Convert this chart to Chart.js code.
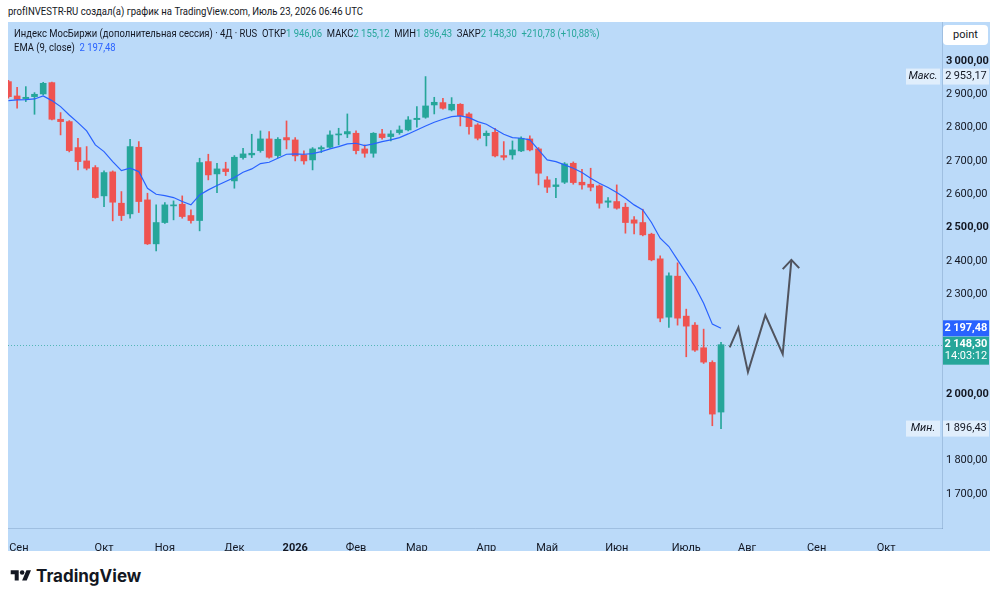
<!DOCTYPE html>
<html lang="ru">
<head>
<meta charset="UTF-8">
<title>Индекс МосБиржи</title>
<script src="https://cdn.jsdelivr.net/npm/chart.js"></script>
<style>
  body { margin: 0; width: 1000px; height: 600px; background: #fff; position: relative; overflow: hidden; font-family: Roboto, "Liberation Sans", sans-serif; }
  #credit { position: absolute; left: 8px; top: 5px; font-size: 11px; color: #131722; white-space: nowrap; transform: scaleX(0.87); transform-origin: left center; }
  #wrap { position: absolute; left: 8px; top: 22px; width: 982px; height: 529px; background: #bbdaf9; }
  #legend { position: absolute; left: 6px; top: 5px; font-size: 11px; color: #131722; line-height: 14px; white-space: nowrap; transform: scaleX(0.86); transform-origin: left top; }
  #legend .v { color: #26a69a; }
  #legend .e { color: #2962ff; }
  #pt { position: absolute; left: 935px; top: 3px; width: 45px; height: 20px; background: #fff; border-radius: 4px; font-size: 11px; color: #131722; text-align: center; line-height: 20px; }
  #logo { position: absolute; left: 10px; top: 566px; display: flex; align-items: center; gap: 4px; font-family: Inter, Roboto, sans-serif; font-weight: 700; font-size: 17px; color: #131722; }
</style>
</head>
<body>
<div id="credit">profINVESTR-RU создал(а) график на TradingView.com, Июль 23, 2026 06:46 UTC</div>
<div id="wrap">
  <canvas id="chart" width="982" height="529"></canvas>
  <div id="legend">
    <div>Индекс МосБиржи (дополнительная сессия) · 4Д · RUS&nbsp; ОТКР<span class="v">1 946,06</span>&nbsp; МАКС<span class="v">2 155,12</span>&nbsp; МИН<span class="v">1 896,43</span>&nbsp; ЗАКР<span class="v">2 148,30</span>&nbsp; <span class="v">+210,78 (+10,88%)</span></div>
    <div>EMA (9, close)&nbsp; <span class="e">2 197,48</span></div>
  </div>
  <div id="pt">point</div>
</div>
<div id="logo">
  <svg width="22" height="16" viewBox="0 0 36 28"><path d="M14 22H7V11H0V4h14v18z" fill="#131722"/><circle cx="20" cy="8" r="4" fill="#131722"/><path d="M28 22h-8l7.5-18h8L28 22z" fill="#131722"/></svg>
  <span>TradingView</span>
</div>

<script>
// 4-day candles, index 0 = first visible bar
const candleOpen = [2938, 2895, 2887, 2893, 2901, 2935, 2825, 2818, 2740, 2700,
  2680, 2595, 2667, 2573, 2541, 2741, 2583, 2451, 2515, 2565,
  2570, 2536, 2521, 2698, 2661, 2676, 2640, 2710, 2718, 2731,
  2766, 2716, 2770, 2763, 2718, 2703, 2736, 2741, 2778, 2781,
  2783, 2736, 2723, 2781, 2773, 2785, 2793, 2824, 2831, 2868,
  2875, 2853, 2870, 2841, 2808, 2776, 2786, 2716, 2718, 2730,
  2766, 2736, 2643, 2623, 2636, 2693, 2636, 2630, 2625, 2576,
  2578, 2561, 2523, 2515, 2480, 2406, 2231, 2354, 2234, 2207,
  2139, 2095, 1946.06];
const candleHigh = [2942, 2921, 2923, 2905, 2936, 2937, 2845, 2821, 2768, 2743,
  2686, 2670, 2670, 2608, 2765, 2758, 2603, 2568, 2575, 2580,
  2595, 2553, 2708, 2720, 2693, 2696, 2716, 2738, 2780, 2790,
  2788, 2770, 2820, 2770, 2730, 2740, 2745, 2790, 2798, 2841,
  2790, 2748, 2785, 2795, 2791, 2805, 2833, 2863, 2953.17, 2891,
  2888, 2890, 2872, 2845, 2812, 2790, 2798, 2758, 2760, 2772,
  2775, 2740, 2653, 2648, 2695, 2697, 2675, 2678, 2628, 2590,
  2628, 2573, 2533, 2555, 2483, 2415, 2364, 2394, 2255, 2215,
  2195, 2100, 2155.12];
const candleLow = [2888, 2858, 2878, 2840, 2898, 2823, 2778, 2727, 2673, 2673,
  2588, 2563, 2520, 2521, 2528, 2545, 2449, 2430, 2512, 2523,
  2528, 2513, 2490, 2643, 2605, 2656, 2618, 2705, 2710, 2726,
  2708, 2710, 2736, 2700, 2690, 2673, 2725, 2738, 2748, 2770,
  2721, 2711, 2711, 2765, 2760, 2780, 2790, 2801, 2828, 2841,
  2855, 2850, 2805, 2780, 2763, 2745, 2712, 2703, 2705, 2728,
  2730, 2628, 2605, 2590, 2632, 2630, 2615, 2610, 2558, 2560,
  2555, 2483, 2481, 2475, 2400, 2217, 2200, 2207, 2112, 2128,
  2092, 1905, 1896.43];
const candleClose = [2893, 2885, 2891, 2900, 2933, 2825, 2818, 2731, 2698, 2678,
  2590, 2665, 2576, 2536, 2743, 2578, 2451, 2515, 2568, 2568,
  2533, 2521, 2695, 2658, 2676, 2668, 2711, 2721, 2723, 2766,
  2711, 2765, 2763, 2715, 2700, 2736, 2740, 2778, 2781, 2788,
  2731, 2723, 2783, 2770, 2781, 2793, 2823, 2828, 2865, 2876,
  2858, 2870, 2836, 2803, 2768, 2783, 2715, 2711, 2733, 2768,
  2733, 2663, 2621, 2628, 2691, 2635, 2628, 2621, 2573, 2580,
  2558, 2515, 2513, 2478, 2403, 2228, 2355, 2228, 2204, 2132,
  2096, 1940, 2148.30];
// EMA(9, close)
const emaLine = [2881, 2883, 2884, 2886, 2895, 2881, 2863, 2838, 2815, 2790,
  2748, 2728, 2698, 2671, 2678, 2668, 2618, 2600, 2596, 2590,
  2578, 2568, 2598, 2613, 2626, 2638, 2650, 2666, 2676, 2692,
  2696, 2708, 2720, 2721, 2720, 2722, 2728, 2736, 2743, 2751,
  2753, 2746, 2751, 2758, 2763, 2770, 2781, 2793, 2805, 2816,
  2825, 2833, 2835, 2830, 2818, 2810, 2795, 2780, 2770, 2768,
  2763, 2733, 2703, 2698, 2688, 2678, 2665, 2648, 2633, 2620,
  2605, 2588, 2568, 2553, 2515, 2468, 2443, 2403, 2363, 2323,
  2273, 2210, 2197.48];
// hand-drawn forecast arrow
const arrowX = [83.0, 84.0, 85.1, 87.1, 89.1, 90.1];
const arrowY = [2140, 2200, 2066, 2237, 2120, 2403];
const headX = [89.1, 90.1, 91.0];
const headY = [2375, 2403, 2378];

const monthLabels = ['Сен', 'Окт', 'Ноя', 'Дек', '2026', 'Фев', 'Мар', 'Апр', 'Май', 'Июн', 'Июль', 'Авг', 'Сен', 'Окт'];
const monthPos = [1.2, 11, 18, 26, 33, 40, 47, 55, 62, 70, 78, 85, 93, 101];
const priceTicks = [3000, 2900, 2800, 2700, 2600, 2500, 2400, 2300, 2000, 1800, 1700];
const boldPrices = [3000, 2500, 2000];

const maxPrice = 2953.17, minPrice = 1896.43, lastClose = 2148.30, lastEma = 2197.48;

const UP = '#26a69a', DOWN = '#ef5350';
const FONT = 'Roboto, "Liberation Sans", sans-serif';

function fmt(v) {
  const parts = v.toFixed(2).split('.');
  return parts[0].replace(/\B(?=(\d{3})+(?!\d))/g, '\u2009') + ',' + parts[1];
}

const colors = candleOpen.map((o, i) => candleClose[i] >= o ? UP : DOWN);

const badges = {
  id: 'badges',
  beforeDatasetsDraw(chart) {
    const { ctx, chartArea: a, scales: { y } } = chart;
    const py = Math.round(y.getPixelForValue(lastClose)) + 0.5;
    ctx.save();
    ctx.strokeStyle = 'rgba(38,166,154,0.7)';
    ctx.setLineDash([1, 2]);
    ctx.lineWidth = 1;
    ctx.beginPath();
    ctx.moveTo(a.left, py);
    ctx.lineTo(a.right, py);
    ctx.stroke();
    ctx.restore();
  },
  afterDraw(chart) {
    const { ctx, chartArea: a, scales: { y } } = chart;
    const ax = a.right + 1, aw = 46;
    ctx.save();
    ctx.font = '11px ' + FONT;
    ctx.textBaseline = 'middle';

    function tagBox(val, label) {
      const py = y.getPixelForValue(val);
      ctx.fillStyle = 'rgba(255,255,255,0.55)';
      ctx.fillRect(ax, py - 8, aw, 16);
      ctx.fillRect(a.right - 36, py - 8, 34, 16);
      ctx.fillStyle = '#131722';
      ctx.textAlign = 'center';
      ctx.fillText(fmt(val), ax + aw / 2, py);
      ctx.font = 'italic 11px ' + FONT;
      ctx.fillText(label, a.right - 19, py);
      ctx.font = '11px ' + FONT;
    }
    tagBox(maxPrice, 'Макс.');
    tagBox(minPrice, 'Мин.');

    let py = y.getPixelForValue(lastEma);
    ctx.fillStyle = '#2962ff';
    ctx.fillRect(ax, py - 8, aw, 16);
    ctx.fillStyle = '#fff';
    ctx.textAlign = 'center';
    ctx.font = 'bold 11px ' + FONT;
    ctx.fillText(fmt(lastEma), ax + aw / 2, py);

    py = y.getPixelForValue(lastClose);
    ctx.fillStyle = UP;
    ctx.fillRect(ax, py - 8, aw, 28);
    ctx.fillStyle = '#fff';
    ctx.fillText(fmt(lastClose), ax + aw / 2, py);
    ctx.font = '11px ' + FONT;
    ctx.fillText('14:03:12', ax + aw / 2, py + 12);
    ctx.restore();
  }
};

new Chart(document.getElementById('chart'), {
  type: 'bar',
  data: {
    datasets: [
      {
        type: 'line',
        data: emaLine.map((v, i) => ({ x: i, y: v })),
        borderColor: '#2962ff',
        borderWidth: 1.2,
        pointRadius: 0,
        order: 0
      },
      {
        type: 'line',
        data: arrowX.map((v, i) => ({ x: v, y: arrowY[i] })),
        borderColor: '#50535e',
        borderWidth: 2,
        pointRadius: 0,
        order: 0
      },
      {
        type: 'line',
        data: headX.map((v, i) => ({ x: v, y: headY[i] })),
        borderColor: '#50535e',
        borderWidth: 2,
        pointRadius: 0,
        order: 0
      },
      {
        data: candleOpen.map((o, i) => ({ x: i, y: [o, candleClose[i]] })),
        backgroundColor: colors,
        barThickness: 6,
        minBarLength: 1,
        grouped: false,
        order: 1
      },
      {
        data: candleLow.map((l, i) => ({ x: i, y: [l, candleHigh[i]] })),
        backgroundColor: colors,
        barThickness: 1,
        grouped: false,
        order: 2
      }
    ]
  },
  options: {
    responsive: false,
    animation: false,
    layout: { padding: 0 },
    plugins: { legend: { display: false }, tooltip: { enabled: false } },
    scales: {
      x: {
        type: 'linear',
        min: -0.05,
        max: 107.43,
        offset: false,
        grid: { display: false },
        border: { display: true, color: 'rgba(110,140,180,0.35)' },
        afterBuildTicks(scale) { scale.ticks = monthPos.map(v => ({ value: v })); },
        afterFit(scale) {
          scale.height = 23;
          scale.paddingLeft = 0;
          scale.paddingRight = 0;
        },
        ticks: {
          autoSkip: false,
          maxRotation: 0,
          padding: 6,
          color: '#131722',
          font: ctx => ({ family: FONT, size: 11, weight: ctx.index === 4 ? 'bold' : 'normal' }),
          callback: (v, i) => monthLabels[i]
        }
      },
      y: {
        position: 'right',
        min: 1598,
        max: 3117,
        grid: { display: false, drawTicks: false },
        border: { display: true, color: 'rgba(110,140,180,0.35)' },
        afterBuildTicks(scale) { scale.ticks = priceTicks.map(v => ({ value: v })); },
        afterFit(scale) {
          scale.width = 48;
          scale.paddingTop = 0;
          scale.paddingBottom = 0;
        },
        ticks: {
          padding: 4,
          crossAlign: 'near',
          color: '#131722',
          font: ctx => ({ family: FONT, size: 11, weight: boldPrices.includes(ctx.tick && ctx.tick.value) ? 'bold' : 'normal' }),
          callback: v => fmt(v)
        }
      }
    }
  },
  plugins: [badges]
});
</script>
</body>
</html>
